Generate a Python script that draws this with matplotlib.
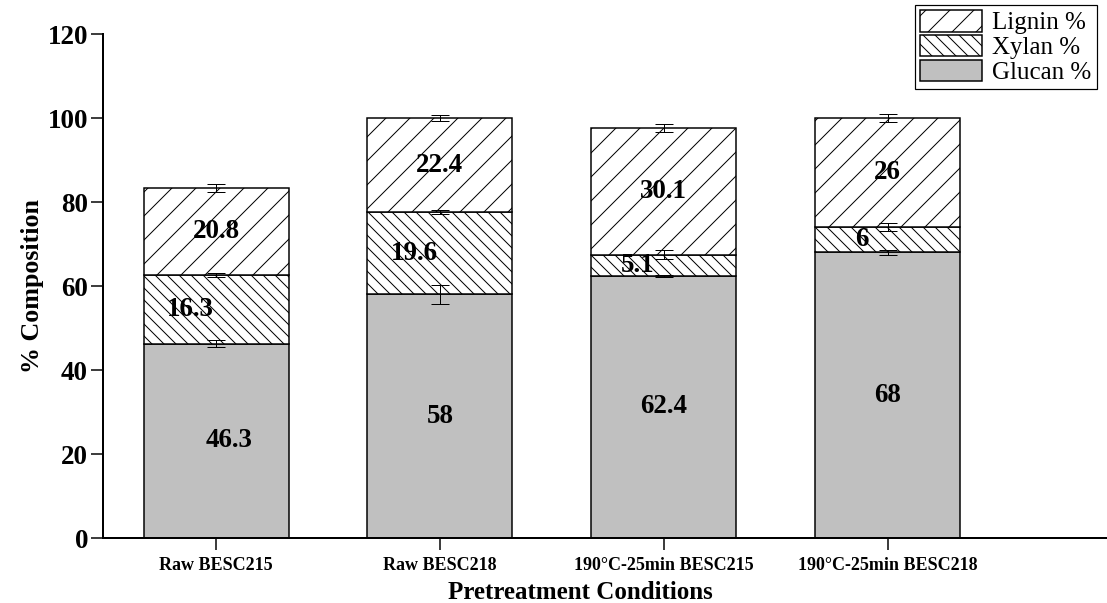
import numpy as np
import matplotlib
matplotlib.use("Agg")
import matplotlib.pyplot as plt

# composition of each sample (%)
conditions = ["Raw BESC215", "Raw BESC218", "190°C-25min BESC215", "190°C-25min BESC218"]
glucan = [46.3, 58, 62.4, 68]
xylan = [16.3, 19.6, 5.1, 6]
lignin = [20.8, 22.4, 30.1, 26]
glucan_err = [0.8, 2.2, 0.3, 0.6]
xylan_err = [0.5, 0.4, 1.0, 1.0]
lignin_err = [0.9, 0.8, 1.0, 1.0]

plt.rcParams['font.family'] = ['Liberation Serif', 'DejaVu Serif']
plt.rcParams['hatch.linewidth'] = 1.0

# dpi 72 so that points == pixels
fig = plt.figure(figsize=(1107 / 72, 603 / 72), dpi=72)
ax = fig.add_axes([103 / 1107, 1 - 538 / 603, 1 - 103 / 1107, (538 - 34) / 603])

x = np.arange(1, len(conditions) + 1)
w = 0.648
g = np.array(glucan)
xy = np.array(xylan)
lg = np.array(lignin)

ax.bar(x, g, w, color='#c0c0c0', edgecolor='black', linewidth=1.5, label='Glucan %')
ax.bar(x, xy, w, bottom=g, color='white', edgecolor='black', linewidth=1.5,
       hatch='\\\\', label='Xylan %')
ax.bar(x, lg, w, bottom=g + xy, color='white', edgecolor='black', linewidth=1.5,
       hatch='/', label='Lignin %')

ekw = dict(fmt='none', ecolor='black', elinewidth=1, capsize=9, capthick=1, zorder=5)
ax.errorbar(x, g, yerr=glucan_err, **ekw)
ax.errorbar(x, g + xy, yerr=xylan_err, **ekw)
ax.errorbar(x, g + xy + lg, yerr=lignin_err, **ekw)

lab = dict(ha='center', va='center', fontsize=27, fontweight='bold', zorder=6)
for i in range(len(x)):
    dx = 0.06 if i == 0 else 0.0
    ax.text(x[i] + dx, g[i] / 2, f"{glucan[i]:g}", **lab)
    ax.text(x[i] - 0.116, g[i] + xy[i] / 2, f"{xylan[i]:g}", **lab)
    ax.text(x[i], g[i] + xy[i] + lg[i] / 2, f"{lignin[i]:g}", **lab)

ax.set_xlim(0.495, 4.98)
ax.set_ylim(0, 120)
ax.set_yticks(range(0, 121, 20))
ax.set_xticks(x)
ax.set_xticklabels(conditions, fontsize=18, fontweight='bold')
for t in ax.get_yticklabels():
    t.set_fontsize(27)
    t.set_fontweight('bold')
ax.tick_params(axis='both', direction='out', length=12, width=1.5, pad=3)
ax.tick_params(axis='x', pad=7)
for s in ['top', 'right']:
    ax.spines[s].set_visible(False)
for s in ['left', 'bottom']:
    ax.spines[s].set_linewidth(2)

ax.set_ylabel('% Composition', fontsize=26, fontweight='bold', labelpad=4)
ax.set_xlabel('Pretreatment Conditions', fontsize=25, fontweight='bold', labelpad=4)
ax.xaxis.set_label_coords(0.475, -0.085)

h, l = ax.get_legend_handles_labels()
leg = fig.legend(h[::-1], l[::-1], loc='upper left', bbox_to_anchor=(915 / 1107, 1 - 5 / 603),
                 fontsize=25, frameon=True, fancybox=False, framealpha=1,
                 edgecolor='black', handlelength=2.5, handleheight=0.95,
                 labelspacing=0.02, handletextpad=0.4, borderpad=0.2, borderaxespad=0)
leg.get_frame().set_linewidth(1.2)

fig.savefig('out.png', dpi=72)
